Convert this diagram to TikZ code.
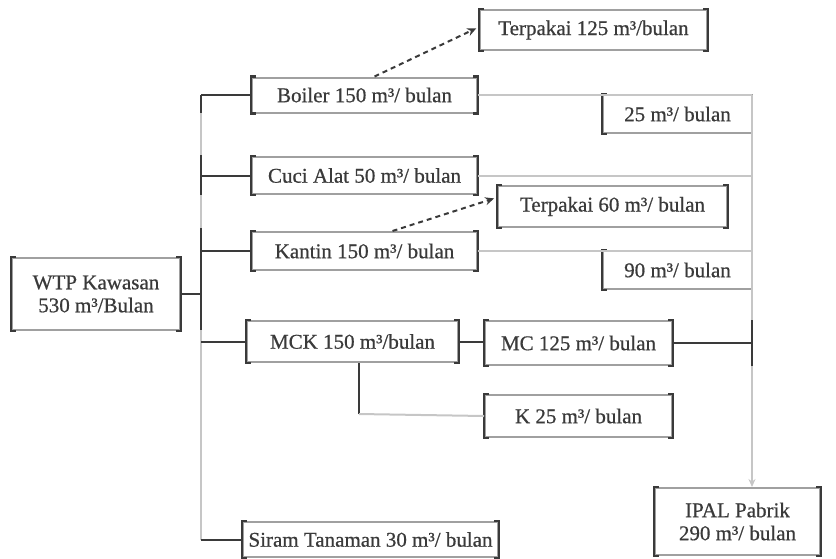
\documentclass[tikz,border=0pt]{standalone}
\usepackage{fontspec}
\setmainfont{Liberation Serif}
\newfontfamily\heavyserif{Liberation Serif}[FakeBold=0.6]
\usetikzlibrary{arrows.meta}
\definecolor{ink}{HTML}{3A3A3A}
\definecolor{lite}{HTML}{C6C6C6}
\definecolor{edge}{HTML}{A0A0A0}
\begin{document}
\begin{tikzpicture}[x=1pt,y=-1pt,
  box/.style={draw=edge, line width=2pt, fill=white, inner sep=0pt, text=ink,
    font=\heavyserif\fontsize{21}{23}\selectfont, align=center},
  bracket/.style={draw=ink, line width=2.2pt},
  dark/.style={draw=ink, line width=2pt},
  light/.style={draw=lite, line width=2pt},
  dashline/.style={draw=ink, line width=2pt, dash pattern=on 5pt off 4pt, -{Stealth[length=9pt,width=8pt]}, shorten >=3pt}
]
\useasboundingbox (0,0) rectangle (836,558);

% nodes
\node[box, minimum width=168pt, minimum height=72pt] (wtp) at (96,294) {WTP Kawasan\\530 m³/Bulan};
\node[box, minimum width=225pt, minimum height=35pt] (boiler) at (364.5,95) {Boiler 150 m³/ bulan};
\node[box, minimum width=225pt, minimum height=37pt] (cuci) at (364.5,175.5) {Cuci Alat 50 m³/ bulan};
\node[box, minimum width=225pt, minimum height=38pt] (kantin) at (364.5,251) {Kantin 150 m³/ bulan};
\node[box, minimum width=211pt, minimum height=41pt] (mck) at (352.5,341.5) {MCK 150 m³/bulan};
\node[box, minimum width=255pt, minimum height=35pt] (siram) at (370.5,539.5) {Siram Tanaman 30 m³/ bulan};
\node[box, minimum width=227pt, minimum height=40pt] (t125) at (593.5,30) {Terpakai 125 m³/bulan};
\node[box, minimum width=149pt, minimum height=38pt] (s25) at (677.5,114) {25 m³/ bulan};
\node[box, minimum width=229pt, minimum height=41pt] (t60) at (612.5,206.5) {Terpakai 60 m³/ bulan};
\node[box, minimum width=149pt, minimum height=38pt] (s90) at (677.5,270) {90 m³/ bulan};
\node[box, minimum width=187pt, minimum height=44pt] (mc) at (578.5,343) {MC 125 m³/ bulan};
\node[box, minimum width=187pt, minimum height=42pt] (k) at (578.5,416) {K 25 m³/ bulan};
\node[box, minimum width=165pt, minimum height=67pt] (ipal) at (737.5,521.5) {IPAL Pabrik\\290 m³/ bulan};

% brackets on the sides of boxes
\foreach \n in {wtp,boiler,cuci,kantin,mck,siram,t125,t60,mc,k,ipal} {
  \draw[bracket] ([xshift=5pt]\n.north west) -| (\n.south west) -- ++(5pt,0);
  \draw[bracket] ([xshift=-5pt]\n.north east) -| (\n.south east) -- ++(-5pt,0);
}
\foreach \n in {s25,s90} {
  \draw[bracket] ([xshift=5pt]\n.north west) -| (\n.south west) -- ++(5pt,0);
}

% left trunk
\coordinate (t0) at (201,95);
\coordinate (t1) at (201,540);
\draw[light] (t0) -- (t1);
\draw[dark] (201,95) -- (201,113);
\draw[dark] (201,155) -- (201,195);
\draw[dark] (201,228) -- (201,330);
\draw[dark] (wtp.east) -- (wtp.east -| t0);
\draw[dark] (t0) -- (boiler.west);
\draw[dark] (cuci.west -| t0) -- (cuci.west);
\draw[dark] (kantin.west -| t0) -- (kantin.west);
\draw[dark] (mck.west -| t0) -- (mck.west);
\draw[dark] (siram.west -| t1) -- (siram.west);

% right collector
\coordinate (r0) at (752,95);
\draw[light, -{Stealth[length=8pt,width=7pt]}] (r0) -- (r0 |- ipal.north);
\draw[light] (boiler.east) -- (r0);
\draw[light] (cuci.east) -- (cuci.east -| r0);
\draw[light] (kantin.east) -- (kantin.east -| r0);
\draw[dark] (mc.east) -- (mc.east -| r0);
\draw[dark] ([yshift=-23pt]mc.east -| r0) -- ([yshift=23pt]mc.east -| r0);

% MCK split
\draw[dark] (mck.east) -- (mck.east -| mc.west);
\coordinate (kb) at (359,414);
\draw[dark] (mck.south -| kb) -- (kb);
\draw[light] (kb) -- (k.west);

% dashed arrows to used amounts
\draw[dashline] ([xshift=10pt]boiler.north) -- ([yshift=3pt]t125.west);
\draw[dashline] ([xshift=28pt]kantin.north) -- ([yshift=9pt]t60.west);
\end{tikzpicture}
\end{document}
